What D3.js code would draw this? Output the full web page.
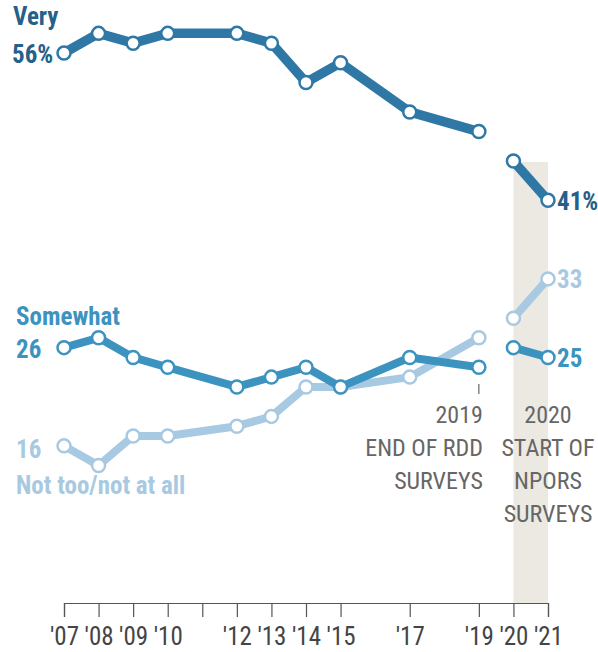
<!DOCTYPE html>
<html>
<head>
<meta charset="utf-8">
<script src="https://d3js.org/d3.v7.min.js"></script>
<style>
  body { margin: 0; background: #fff; }
  text { font-family: "Liberation Sans Narrow", "Arial Narrow", "Roboto Condensed", sans-serif; }
  .tick-lbl { font-size: 25px; fill: #444; }
  .note { font-size: 24px; fill: #666; }
</style>
</head>
<body>
<svg id="chart" width="598" height="652"></svg>
<script>
// survey years (2020 starts NPORS, so lines break after 2019)
var years = [2007, 2008, 2009, 2010, 2012, 2013, 2014, 2015, 2017, 2019, 2020, 2021];
var very     = [56, 58, 57, 58, 58, 57, 53, 55, 50, 48, 45, 41];
var somewhat = [26, 27, 25, 24, 22, 23, 24, 22, 25, 24, 26, 25];
var notToo   = [16, 14, 17, 17, 18, 19, 22, 22, 23, 27, 29, 33];
var tickYears = [2007, 2008, 2009, 2010, 2011, 2012, 2013, 2014, 2015, 2017, 2019, 2020, 2021];
var tickLabels = ["'07", "'08", "'09", "'10", "", "'12", "'13", "'14", "'15", "'17", "'19", "'20", "'21"];

var svg = d3.select("#chart");

var x = d3.scaleLinear().domain([2007, 2021]).range([64, 548]);
var y = d3.scaleLinear().domain([0, 56]).range([603, 53]);

// shaded band 2020-2021
svg.append("rect")
  .attr("x", x(2020)).attr("width", x(2021) - x(2020))
  .attr("y", 162).attr("height", y(0) - 162)
  .attr("fill", "#ece9e2");

// axis
var axis = d3.axisBottom(x)
  .tickValues(tickYears)
  .tickSize(14)
  .tickFormat(function(d, i) { return tickLabels[i]; });
var ax = svg.append("g").attr("transform", "translate(0," + y(0) + ")").call(axis);
ax.select(".domain").attr("stroke", "#555").attr("stroke-width", 1.2);
ax.selectAll(".tick line").attr("stroke", "#555").attr("stroke-width", 1.2);
ax.selectAll(".tick text").attr("class", "tick-lbl").attr("dy", "0").attr("y", 42)
  .attr("font-size", null).attr("font-family", null);

var series = [
  { name: "notToo", vals: notToo, color: "#a8c9e2", w: 8 },
  { name: "somewhat", vals: somewhat, color: "#3d93bf", w: 8 },
  { name: "very", vals: very, color: "#2f78a5", w: 9.5 }
];

var line = d3.line()
  .x(function(d) { return x(d.year); })
  .y(function(d) { return y(d.v); });

series.forEach(function(s) {
  var pts = years.map(function(yr, i) { return { year: yr, v: s.vals[i] }; });
  var segA = pts.filter(function(d) { return d.year <= 2019; });
  var segB = pts.filter(function(d) { return d.year >= 2020; });
  var g = svg.append("g");
  [segA, segB].forEach(function(seg) {
    g.append("path").datum(seg)
      .attr("d", line)
      .attr("fill", "none")
      .attr("stroke", s.color)
      .attr("stroke-width", s.w)
      .attr("stroke-linejoin", "round");
  });
  g.selectAll("circle").data(pts).enter().append("circle")
    .attr("cx", function(d) { return x(d.year); })
    .attr("cy", function(d) { return y(d.v); })
    .attr("r", 6.5)
    .attr("fill", "#fff")
    .attr("stroke", s.color)
    .attr("stroke-width", 2.5);
});

// series labels
function lbl(txt, px, py, color) {
  svg.append("text").attr("x", px).attr("y", py)
    .attr("fill", color).attr("font-size", 25).attr("font-weight", "bold")
    .text(txt);
}
lbl("Very", 13, 25, "#265f88");
lbl("56%", 12, 63, "#265f88");
lbl("41%", 557, 210, "#265f88");
lbl("Somewhat", 16, 325, "#3d93bf");
lbl("26", 16, 358, "#3d93bf");
lbl("25", 557, 367, "#3d93bf");
lbl("33", 557, 288, "#a8c9e2");
lbl("16", 16, 458, "#a8c9e2");
lbl("Not too/not at all", 16, 494, "#a8c9e2");

// annotations
svg.append("line")
  .attr("x1", x(2019)).attr("x2", x(2019))
  .attr("y1", 384).attr("y2", 394)
  .attr("stroke", "#666").attr("stroke-width", 1.2);
var noteL = ["2019", "END OF RDD", "SURVEYS"];
noteL.forEach(function(t, i) {
  svg.append("text").attr("class", "note").attr("x", x(2019) + 4).attr("y", 423 + i * 33)
    .attr("text-anchor", "end").text(t);
});
var noteR = ["2020", "START OF", "NPORS", "SURVEYS"];
noteR.forEach(function(t, i) {
  svg.append("text").attr("class", "note").attr("x", x(2021)).attr("y", 423 + i * 33)
    .attr("text-anchor", "middle").text(t);
});
</script>
</body>
</html>
